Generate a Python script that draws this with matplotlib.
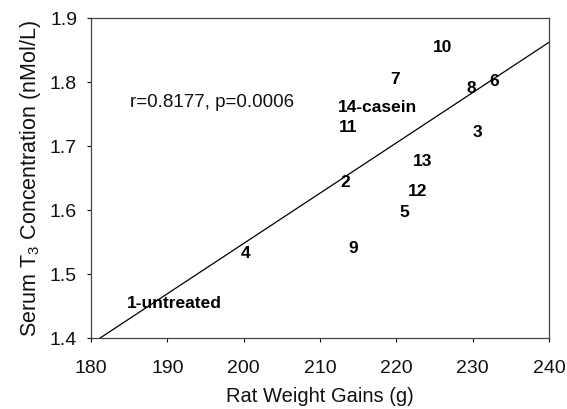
import numpy as np
import matplotlib
matplotlib.use("Agg")
import matplotlib.pyplot as plt

plt.rcParams['font.family'] = ['Liberation Sans', 'DejaVu Sans']
plt.rcParams['mathtext.default'] = 'regular'

# group labels placed at their (weight gain, T3) positions
labels = ['1-untreated', '2', '3', '4', '5', '6', '7', '8', '9', '10',
          '11', '12', '13', '14-casein']
weight_gain = [190.9, 213.3, 230.6, 200.2, 221.1, 232.8, 219.8, 229.8,
               214.3, 226.1, 213.7, 222.8, 223.4, 217.5]
t3_conc = [1.455, 1.644, 1.722, 1.534, 1.597, 1.803, 1.805, 1.791,
           1.542, 1.856, 1.731, 1.630, 1.678, 1.761]

# regression line end points
fit_x = [181.2, 240]
fit_y = [1.40, 1.862]

fig = plt.figure(figsize=(5.67, 4.10), dpi=100)
ax = fig.add_axes([0.1605, 0.1732, 0.8078, 0.7805])

ax.plot(fit_x, fit_y, color='black', lw=0.9)

for lab, x, y in zip(labels, weight_gain, t3_conc):
    ax.text(x, y, lab, ha='center', va='center', fontsize=12.5,
            fontweight='bold', color='black')

ax.text(185.1, 1.769, 'r=0.8177, p=0.0006', ha='left', va='center',
        fontsize=13.5, color='#111111')

ax.set_xlim(180, 240)
ax.set_ylim(1.4, 1.9)
ax.set_xticks(np.arange(180, 241, 10))
ax.set_yticks(np.arange(1.4, 1.91, 0.1))
ax.set_yticklabels(['1.4', '1.5', '1.6', '1.7', '1.8', '1.9'])
ax.tick_params(direction='out', length=3, width=0.8, labelsize=14,
               colors='#111111')
ax.tick_params(axis='x', pad=12)
ax.tick_params(axis='y', pad=7)

for s in ax.spines.values():
    s.set_color('#444444')
    s.set_linewidth(0.9)

ax.set_xlabel('Rat Weight Gains (g)', fontsize=14.5, color='#111111',
              labelpad=7)
ax.set_ylabel('Serum T$_3$ Concentration (nMol/L)', fontsize=15.5,
              color='#111111', labelpad=5)

fig.savefig('out.png', dpi=100)
